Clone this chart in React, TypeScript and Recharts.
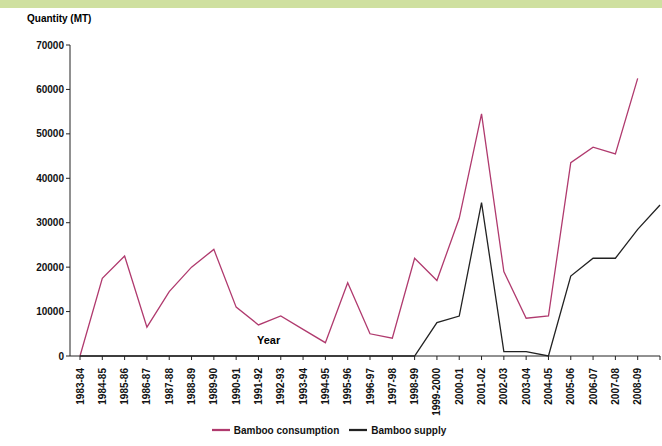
import * as React from "react"
import { LineChart, Line, XAxis, YAxis, Legend } from "recharts"

const years = ["1983-84", "1984-85", "1985-86", "1986-87", "1987-88", "1988-89", "1989-90", "1990-91", "1991-92", "1992-93", "1993-94", "1994-95", "1995-96", "1996-97", "1997-98", "1998-99", "1999-2000", "2000-01", "2001-02", "2002-03", "2003-04", "2004-05", "2005-06", "2006-07", "2007-08", "2008-09", ""];
const consumption = [0, 17500, 22500, 6500, 14500, 20000, 24000, 11000, 7000, 9000, 6000, 3000, 16500, 5000, 4000, 22000, 17000, 31000, 54500, 19000, 8500, 9000, 43500, 47000, 45500, 62500, null];
const supply = [0, 0, 0, 0, 0, 0, 0, 0, 0, 0, 0, 0, 0, 0, 0, 0, 7500, 9000, 34500, 1000, 1000, 0, 18000, 22000, 22000, 28500, 34000];
const yTicks = [0, 10000, 20000, 30000, 40000, 50000, 60000, 70000];

const data = years.map((y, i) => ({ year: y, consumption: consumption[i], supply: supply[i] }));

const font = { fontFamily: "Liberation Sans, Arial, sans-serif", fontSize: 10, fontWeight: 700, fill: "#111" };

function XTick({ x, y, payload }: any) {
  return (
    <text x={x} y={y + 6} transform={`rotate(-90 ${x} ${y + 6})`} textAnchor="end" dominantBaseline="central" {...font}>
      {payload.value}
    </text>
  );
}

export default function App() {
  return (
    <div style={{ position: "absolute", left: 0, top: 0, width: 662, height: 446, background: "#fff" }}>
      <div style={{ position: "absolute", left: 0, top: 0, width: 662, height: 8, background: "#cfe0a0" }} />
      <div style={{ position: "absolute", left: 27, top: 13, ...font, fontSize: 10 }}>Quantity (MT)</div>
      <LineChart width={662} height={446} data={data} margin={{ top: 45, right: 2, left: 8, bottom: 6 }}>
        <XAxis dataKey="year" interval={0} tick={<XTick />} height={64} stroke="#222" tickSize={4} padding={{ left: 10, right: 0 }} />
        <YAxis domain={[0, 70000]} ticks={yTicks} width={62} tick={font} stroke="#222" tickSize={4} />
        <Legend verticalAlign="bottom" height={20} iconType="plainline" iconSize={18}
          formatter={(v) => <span style={{ ...font, color: "#111" }}>{v}</span>} />
        <Line dataKey="consumption" name="Bamboo consumption" stroke="#b03a6e" strokeWidth={1.3} dot={false} isAnimationActive={false} />
        <Line dataKey="supply" name="Bamboo supply" stroke="#222" strokeWidth={1.3} dot={false} isAnimationActive={false} />
      </LineChart>
      <div style={{ position: "absolute", left: 257, top: 334, ...font, fontSize: 11 }}>Year</div>
    </div>
  );
}
